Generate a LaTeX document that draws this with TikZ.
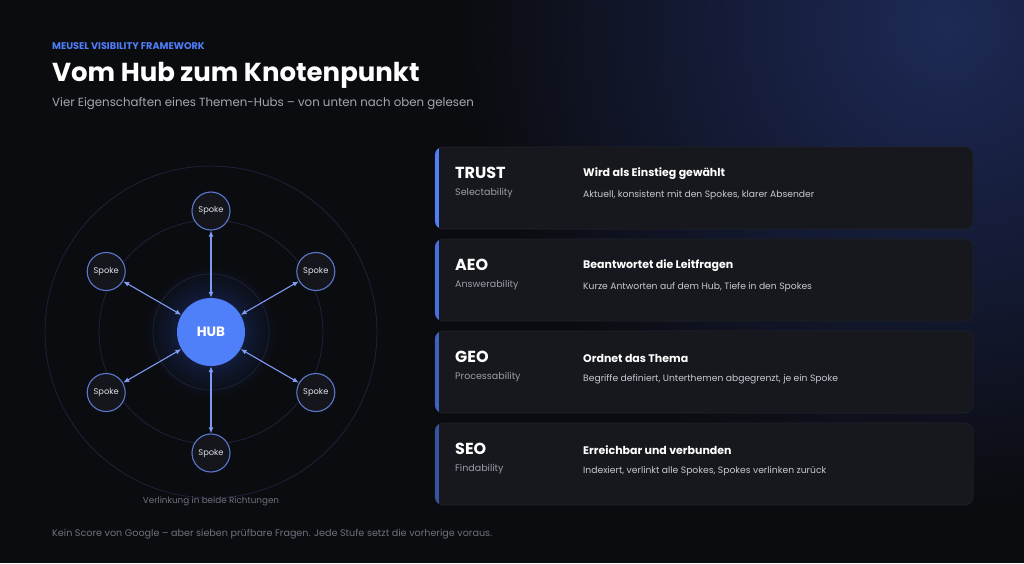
\documentclass[tikz,border=0pt]{standalone}
\usepackage{fontspec}
\setmainfont{Poppins}
\usetikzlibrary{arrows.meta}

\definecolor{bg}{HTML}{0B0C10}
\definecolor{navy}{HTML}{1E2A56}
\definecolor{navymid}{HTML}{141B36}
\definecolor{accent}{HTML}{4F7EF8}
\definecolor{hubfill}{HTML}{4F80FA}
\definecolor{hubglowcol}{HTML}{1F3A78}
\definecolor{hubdark}{HTML}{101830}
\definecolor{cardfill}{HTML}{17181D}
\definecolor{cardline}{HTML}{202228}
\definecolor{ringcol}{HTML}{1C2339}
\definecolor{spokefill}{HTML}{14161C}
\definecolor{spokeline}{HTML}{5A78D0}
\definecolor{linkcol}{HTML}{7D9BF0}
\definecolor{subtext}{HTML}{A3A7B0}
\definecolor{muted}{HTML}{6C717C}
\definecolor{keysub}{HTML}{9A9EA8}
\definecolor{desctext}{HTML}{C5C9D1}
\definecolor{spoketext}{HTML}{DDE1EA}
\definecolor{barA}{HTML}{4F7EF8}
\definecolor{barB}{HTML}{4870DD}
\definecolor{barC}{HTML}{3F62C0}
\definecolor{barD}{HTML}{36559F}

\pgfdeclareradialshading{cornerglow}{\pgfpoint{0bp}{0bp}}{color(0bp)=(navy); color(12bp)=(navymid); color(25bp)=(bg); color(50bp)=(bg)}
\pgfdeclareradialshading{hubglow}{\pgfpoint{0bp}{0bp}}{color(0bp)=(hubglowcol); color(15bp)=(hubdark); color(25bp)=(bg); color(50bp)=(bg)}

\begin{document}
\begin{tikzpicture}[x=1pt, y=-1pt,
  every node/.style={inner sep=0pt},
  txt/.style={anchor=west, text=white},
  ring/.style={draw=ringcol, line width=0.8pt},
  spoke/.style={circle, draw=spokeline, line width=1.1pt, fill=spokefill,
    minimum size=38pt, text=spoketext, font=\fontsize{8.3}{9}\selectfont},
  hubnode/.style={circle, fill=hubfill, minimum size=68pt, text=white,
    font=\bfseries\fontsize{13.5}{15}\selectfont},
  link/.style={draw=linkcol, line width=1.1pt,
    {Latex[length=6pt,width=5pt]}-{Latex[length=6pt,width=5pt]}},
  card/.style={fill=cardfill, draw=cardline, line width=0.6pt, rounded corners=8pt}]

  % Background
  \useasboundingbox (0,0) rectangle (1024,563);
  \fill[bg] (0,0) rectangle (1024,563);
  \begin{scope}
    \clip (0,0) rectangle (1024,563);
    \shade[shading=cornerglow] (945,25) circle (480);
  \end{scope}

  % Header
  \node[txt, text=accent, font=\bfseries\fontsize{9.7}{11}\selectfont] (eyebrow) at (52,46) {MEUSEL VISIBILITY FRAMEWORK};
  \node[txt, font=\bfseries\fontsize{26}{30}\selectfont] (title) at (52,75) {Vom Hub zum Knotenpunkt};
  \node[txt, text=subtext, font=\fontsize{11.8}{14}\selectfont] (subtitle) at (52,104) {Vier Eigenschaften eines Themen-Hubs – von unten nach oben gelesen};

  % Rings and glow
  \draw[ring] (211,332) circle (166);
  \draw[ring] (211,332) circle (112);
  \shade[shading=hubglow] (211,332) circle (66);
  \draw[ring] (211,332) circle (58);

  % Hub and spokes
  \node[hubnode] (hub) at (211,332) {HUB};
  \foreach \a [count=\n] in {-90,-30,30,90,150,-150}
    \node[spoke] (s\n) at ({211+121*cos(\a)},{332+121*sin(\a)}) {Spoke};
  \foreach \n in {1,...,6}
    \draw[link] (hub) -- (s\n);
  \node[text=muted, font=\fontsize{8.8}{10}\selectfont] (caption) at (211,501) {Verlinkung in beide Richtungen};

  % Cards
  \foreach \key/\sub/\head/\desc/\bar [count=\i] in {
      TRUST/Selectability/Wird als Einstieg gewählt/{Aktuell, konsistent mit den Spokes, klarer Absender}/barA,
      AEO/Answerability/Beantwortet die Leitfragen/{Kurze Antworten auf dem Hub, Tiefe in den Spokes}/barB,
      GEO/Processability/Ordnet das Thema/{Begriffe definiert, Unterthemen abgegrenzt, je ein Spoke}/barC,
      SEO/Findability/Erreichbar und verbunden/{Indexiert, verlinkt alle Spokes, Spokes verlinken zurück}/barD} {
    \pgfmathsetmacro{\top}{147+(\i-1)*92}
    \draw[card] (435,\top) rectangle (973,\top+82);
    \begin{scope}
      \clip[rounded corners=8pt] (435,\top) rectangle (973,\top+82);
      \fill[\bar] (435,\top) rectangle (439,\top+82);
    \end{scope}
    \node[txt, font=\bfseries\fontsize{16}{18}\selectfont] (key\i) at (455,\top+26) {\key};
    \node[txt, text=keysub, font=\fontsize{9.5}{11}\selectfont] (sub\i) at (455,\top+46) {\sub};
    \node[txt, font=\bfseries\fontsize{11}{13}\selectfont] (head\i) at (583,\top+27) {\head};
    \node[txt, text=desctext, font=\fontsize{9.2}{11}\selectfont] (desc\i) at (583,\top+48) {\desc};
  }

  % Footer
  \node[txt, text=muted, font=\fontsize{9.6}{11}\selectfont] (footer) at (52,534) {Kein Score von Google – aber sieben prüfbare Fragen. Jede Stufe setzt die vorherige voraus.};
\end{tikzpicture}
\end{document}
